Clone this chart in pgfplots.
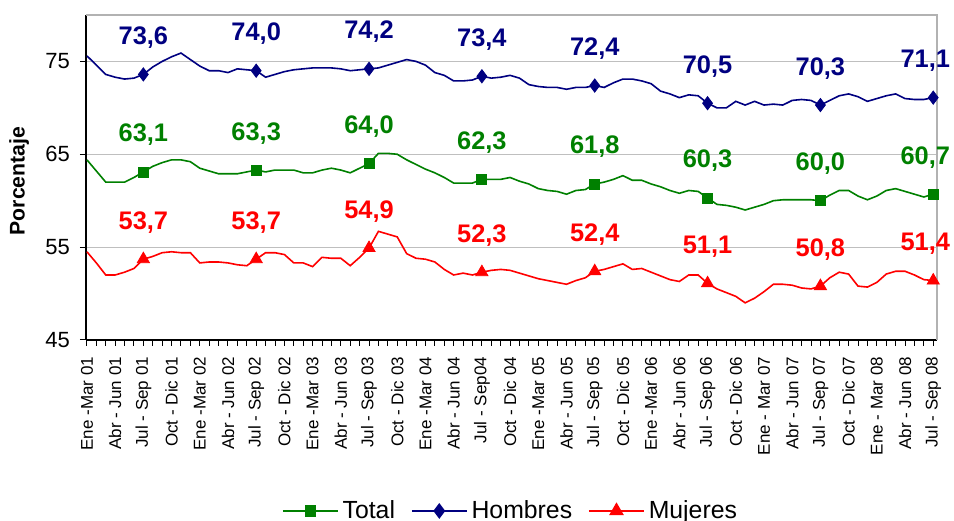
\documentclass[border=0pt]{standalone}
\usepackage{pgfplots}
\usepackage{pgfplotstable}
\pgfplotsset{compat=1.18}
\usepackage{fontspec}
\setmainfont{Liberation Sans}
\definecolor{cgreen}{HTML}{008000}
\definecolor{cnavy}{HTML}{000080}
\definecolor{cred}{HTML}{FF0000}

\pgfplotstableread{
x total hombres mujeres
0 64.4 75.6 54.5
1 63.2 74.6 53.3
2 62.0 73.6 52.0
3 62.0 73.3 52.0
4 62.0 73.1 52.3
5 62.5 73.2 52.7
6 63.1 73.6 53.7
7 63.7 74.4 54.0
8 64.1 75.0 54.4
9 64.4 75.5 54.5
10 64.4 75.9 54.4
11 64.2 75.2 54.4
12 63.5 74.5 53.3
13 63.2 74.0 53.4
14 62.9 74.0 53.4
15 62.9 73.8 53.3
16 62.9 74.2 53.1
17 63.1 74.1 53.0
18 63.3 74.0 53.7
19 63.1 73.3 54.4
20 63.3 73.6 54.4
21 63.3 73.9 54.2
22 63.3 74.1 53.3
23 63.0 74.2 53.3
24 63.0 74.3 52.9
25 63.3 74.3 53.9
26 63.5 74.3 53.8
27 63.3 74.2 53.8
28 63.0 74.0 53.0
29 63.5 74.1 53.9
30 64.0 74.2 54.9
31 65.1 74.3 56.7
32 65.1 74.6 56.4
33 65.0 74.9 56.1
34 64.4 75.2 54.3
35 63.9 75.0 53.8
36 63.4 74.6 53.7
37 63.0 73.8 53.4
38 62.5 73.5 52.6
39 61.9 72.9 52.0
40 61.9 72.9 52.2
41 61.9 73.0 52.0
42 62.3 73.4 52.3
43 62.3 73.2 52.5
44 62.3 73.3 52.6
45 62.5 73.5 52.5
46 62.1 73.2 52.2
47 61.8 72.5 51.9
48 61.3 72.3 51.6
49 61.1 72.2 51.4
50 61.0 72.2 51.2
51 60.7 72.0 51.0
52 61.1 72.2 51.4
53 61.2 72.2 51.7
54 61.8 72.4 52.4
55 62.0 72.2 52.6
56 62.3 72.7 52.9
57 62.7 73.1 53.2
58 62.2 73.1 52.6
59 62.2 72.9 52.7
60 61.8 72.6 52.3
61 61.5 71.8 51.9
62 61.1 71.5 51.5
63 60.8 71.1 51.3
64 61.1 71.4 52.0
65 61.0 71.3 52.0
66 60.3 70.5 51.1
67 59.6 70.0 50.5
68 59.5 70.0 50.1
69 59.3 70.7 49.7
70 59.0 70.3 49.0
71 59.3 70.7 49.5
72 59.6 70.3 50.2
73 60.0 70.4 51.0
74 60.1 70.3 51.0
75 60.1 70.8 50.9
76 60.1 70.9 50.6
77 60.1 70.8 50.5
78 60.0 70.3 50.8
79 60.6 70.8 51.7
80 61.1 71.3 52.3
81 61.1 71.5 52.1
82 60.5 71.2 50.8
83 60.1 70.7 50.7
84 60.5 71.0 51.2
85 61.1 71.3 52.1
86 61.3 71.5 52.4
87 61.0 71.0 52.4
88 60.7 70.9 52.0
89 60.4 70.9 51.5
90 60.7 71.1 51.4
}\datatable

\pgfplotstableread{
x y lab
6 63.1 63,1
18 63.3 63,3
30 64.0 64,0
42 62.3 62,3
54 61.8 61,8
66 60.3 60,3
78 60.0 60,0
}\totlab

\pgfplotstableread{
x y lab
6 73.6 73,6
18 74.0 74,0
30 74.2 74,2
42 73.4 73,4
54 72.4 72,4
66 70.5 70,5
78 70.3 70,3
}\homlab

\pgfplotstableread{
x y lab
6 53.7 53,7
18 53.7 53,7
30 54.9 54,9
42 52.3 52,3
54 52.4 52,4
66 51.1 51,1
78 50.8 50,8
}\mujlab

\pgfplotstableread{
x y lab
90 60.7 60,7
}\totlast
\pgfplotstableread{
x y lab
90 71.1 71,1
}\homlast
\pgfplotstableread{
x y lab
90 51.4 51,4
}\mujlast

\begin{document}
\begin{tikzpicture}
\begin{axis}[
  scale only axis,
  width=425.5pt, height=162.5pt,
  xmin=-0.1, xmax=90.4,
  ymin=45, ymax=80,
  axis lines*=left,
  axis line style={black, line width=0.6pt},
  ytick={45,55,65,75},
  ymajorgrids,
  grid style={gray!50, line width=0.5pt},
  xtick={0,3,...,90},
  minor xtick={0,1,...,90},
  xticklabels={Ene -Mar 01, Abr - Jun 01, Jul - Sep 01, Oct - Dic 01,
    Ene -Mar 02, Abr - Jun 02, Jul - Sep 02, Oct - Dic 02,
    Ene -Mar 03, Abr - Jun 03, Jul - Sep 03, Oct - Dic 03,
    Ene -Mar 04, Abr - Jun 04, Jul - Sep04, Oct - Dic 04,
    Ene -Mar 05, Abr - Jun 05, Jul - Sep 05, Oct - Dic 05,
    Ene -Mar 06, Abr - Jun 06, Jul - Sep 06, Oct - Dic 06,
    Ene - Mar 07, Abr - Jun 07, Jul - Sep 07, Oct - Dic 07,
    Ene - Mar 08, Abr - Jun 08, Jul - Sep 08},
  tick align=outside,
  major tick length=3pt,
  minor tick length=3pt,
  tick style={black, line width=0.5pt},
  xticklabel style={rotate=90, anchor=east, font=\fontsize{8.5}{9}\selectfont},
  xticklabel shift=2pt,
  yticklabel style={font=\fontsize{11}{12}\selectfont},
  yticklabel shift=1.5pt,
  /pgf/number format/assume math mode=true,
  ylabel={Porcentaje},
  ylabel style={at={(axis description cs:-0.0787,0.489)}, anchor=center, font=\fontsize{10.6}{12}\selectfont\bfseries},
  legend style={at={(axis description cs:0.5,-0.526)}, anchor=center, draw=none, fill=none,
    font=\fontsize{12.4}{14}\selectfont, legend columns=3,
    /tikz/every even column/.append style={column sep=6pt}},
  legend image code/.code={\draw[#1] (0pt,0pt) -- (27.5pt,0pt); \draw[#1, mark repeat=1] plot coordinates {(13.75pt,0pt)};},
  clip=false,
  lab/.style={nodes near coords, point meta=explicit symbolic,
    nodes near coords style={font=\fontsize{12.7}{14}\selectfont\bfseries, text=#1, anchor=base, inner sep=0pt, yshift=15pt}},
]
\addlegendimage{cgreen, line width=0.8pt, mark=square*, mark size=2.5pt}
\addlegendentry{Total}
\addlegendimage{cnavy, line width=0.8pt, mark=diamond*, mark size=3.3pt}
\addlegendentry{Hombres}
\addlegendimage{cred, line width=0.8pt, mark=triangle*, mark size=3.5pt}
\addlegendentry{Mujeres}

\draw[gray!60, line width=0.6pt] (rel axis cs:0,1) -- (rel axis cs:1,1) -- (rel axis cs:1,0);

\addplot[cgreen, line width=0.8pt, mark=none, forget plot] table[x=x, y=total] {\datatable};
\addplot[cnavy, line width=0.8pt, mark=none, forget plot] table[x=x, y=hombres] {\datatable};
\addplot[cred, line width=0.8pt, mark=none, forget plot] table[x=x, y=mujeres] {\datatable};

\addplot[only marks, mark=square*, mark size=2.5pt, cgreen, forget plot, lab=cgreen]
  table[x=x, y=y, meta=lab] {\totlab};
\addplot[only marks, mark=diamond*, mark size=3.3pt, cnavy, forget plot, lab=cnavy]
  table[x=x, y=y, meta=lab] {\homlab};
\addplot[only marks, mark=triangle*, mark size=3.5pt, cred, forget plot, lab=cred]
  table[x=x, y=y, meta=lab] {\mujlab};

\addplot[only marks, mark=square*, mark size=2.5pt, cgreen, forget plot, lab=cgreen,
  nodes near coords style={xshift=-4pt}]
  table[x=x, y=y, meta=lab] {\totlast};
\addplot[only marks, mark=diamond*, mark size=3.3pt, cnavy, forget plot, lab=cnavy,
  nodes near coords style={xshift=-4pt}]
  table[x=x, y=y, meta=lab] {\homlast};
\addplot[only marks, mark=triangle*, mark size=3.5pt, cred, forget plot, lab=cred,
  nodes near coords style={xshift=-4pt}]
  table[x=x, y=y, meta=lab] {\mujlast};

\coordinate (ll) at (rel axis cs:0,0);
\coordinate (ur) at (rel axis cs:1,1);
\end{axis}
\pgfresetboundingbox
\path ([shift={(-43pt,-90.5pt)}]ll) rectangle ([shift={(8.5pt,7.5pt)}]ur);
\end{tikzpicture}
\end{document}
